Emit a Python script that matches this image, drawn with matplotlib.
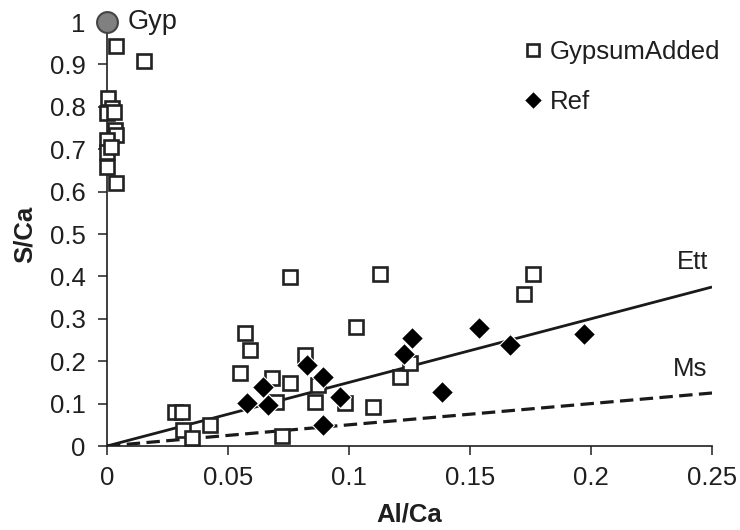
import matplotlib
matplotlib.use('Agg')
import matplotlib.pyplot as plt

# ---- data ----
gyp_added_x = [0.0037, 0.0153, 0.0005, 0.0020, 0.0000, 0.0030, 0.0033, 0.0037, 0.0000,
               0.0000, 0.0015, 0.0000, 0.0037,
               0.0756, 0.1130, 0.1760, 0.1725, 0.1030, 0.0570, 0.0590, 0.0818, 0.0550,
               0.0680, 0.0756, 0.0870, 0.0700, 0.0860, 0.0983, 0.1100, 0.1210, 0.1250,
               0.0280, 0.0310, 0.0315, 0.0426, 0.0350, 0.0724]
gyp_added_y = [0.944, 0.908, 0.821, 0.797, 0.785, 0.788, 0.745, 0.733, 0.722,
               0.694, 0.706, 0.659, 0.620,
               0.398, 0.406, 0.406, 0.358, 0.281, 0.267, 0.226, 0.215, 0.171,
               0.160, 0.148, 0.144, 0.104, 0.104, 0.101, 0.091, 0.163, 0.195,
               0.081, 0.081, 0.038, 0.050, 0.020, 0.024]

ref_x = [0.0577, 0.0646, 0.0667, 0.0825, 0.0894, 0.0963, 0.0894, 0.1227, 0.1260,
         0.1386, 0.1539, 0.1665, 0.1970]
ref_y = [0.101, 0.140, 0.097, 0.191, 0.163, 0.116, 0.050, 0.217, 0.255,
         0.128, 0.279, 0.238, 0.263]

gyp_x = [0.0]
gyp_y = [1.0]

line_x = [0.0, 0.25]
ett_y = [0.0, 0.375]
ms_y = [0.0, 0.125]

xticks = [0, 0.05, 0.1, 0.15, 0.2, 0.25]
xtick_labels = ['0', '0.05', '0.1', '0.15', '0.2', '0.25']
yticks = [0, 0.1, 0.2, 0.3, 0.4, 0.5, 0.6, 0.7, 0.8, 0.9, 1.0]
ytick_labels = ['0', '0.1', '0.2', '0.3', '0.4', '0.5', '0.6', '0.7', '0.8', '0.9', '1']

plt.rcParams['font.family'] = ['Liberation Sans', 'DejaVu Sans']
FS = 18.5
TXT = '#1f1f1f'

fig = plt.figure(figsize=(7.4, 5.3), dpi=100)
ax = fig.add_axes([107/740, 84/530, (712-107)/740, (446-22)/530])

ax.plot(line_x, ett_y, color='#1a1a1a', lw=2.0, solid_capstyle='butt', zorder=2)
ax.plot(line_x, ms_y, color='#1a1a1a', lw=2.3, dashes=(4.2, 2.0), zorder=2)

ax.plot(gyp_added_x, gyp_added_y, ls='none', marker='s', ms=9.5, mfc='white',
        mec='#222222', mew=1.9, label='GypsumAdded', zorder=3, clip_on=False)
ax.plot(ref_x, ref_y, ls='none', marker='D', ms=11, mfc='black',
        mec='white', mew=0.8, label='Ref', zorder=4, clip_on=False)
ax.plot(gyp_x, gyp_y, ls='none', marker='o', ms=15, mfc='#808080',
        mec='#444444', mew=1.5, zorder=5, clip_on=False)

ax.text(0.0085, 1.0, 'Gyp', fontsize=FS + 1, va='center', ha='left', color=TXT)
ax.text(0.242, 0.433, 'Ett', fontsize=FS, va='center', ha='center', color=TXT)
ax.text(0.241, 0.182, 'Ms', fontsize=FS, va='center', ha='center', color=TXT)

ax.set_xlim(0, 0.25)
ax.set_ylim(0, 1.0)
ax.set_xticks(xticks)
ax.set_xticklabels(xtick_labels)
ax.set_yticks(yticks)
ax.set_yticklabels(ytick_labels)

for s in ['top', 'right']:
    ax.spines[s].set_visible(False)
for s in ['left', 'bottom']:
    ax.spines[s].set_linewidth(1.2)
    ax.spines[s].set_color(TXT)
ax.tick_params(axis='both', direction='out', length=6.5, width=1.1, color=TXT,
               labelsize=FS, labelcolor=TXT)
ax.tick_params(axis='y', pad=9)
ax.tick_params(axis='x', pad=8)

ax.set_xlabel('Al/Ca', fontsize=FS, fontweight='bold', color=TXT, labelpad=9)
ax.set_ylabel('S/Ca', fontsize=FS, fontweight='bold', color=TXT, labelpad=9)

leg = ax.legend(loc='upper left', bbox_to_anchor=(525/740, 1 - 40/530),
                bbox_transform=fig.transFigure, frameon=False, fontsize=FS,
                handlelength=0.6, handletextpad=0.35, labelspacing=1.0,
                borderaxespad=0, borderpad=0, markerscale=0.85)
for t in leg.get_texts():
    t.set_color(TXT)

fig.savefig('out.png', dpi=100)
